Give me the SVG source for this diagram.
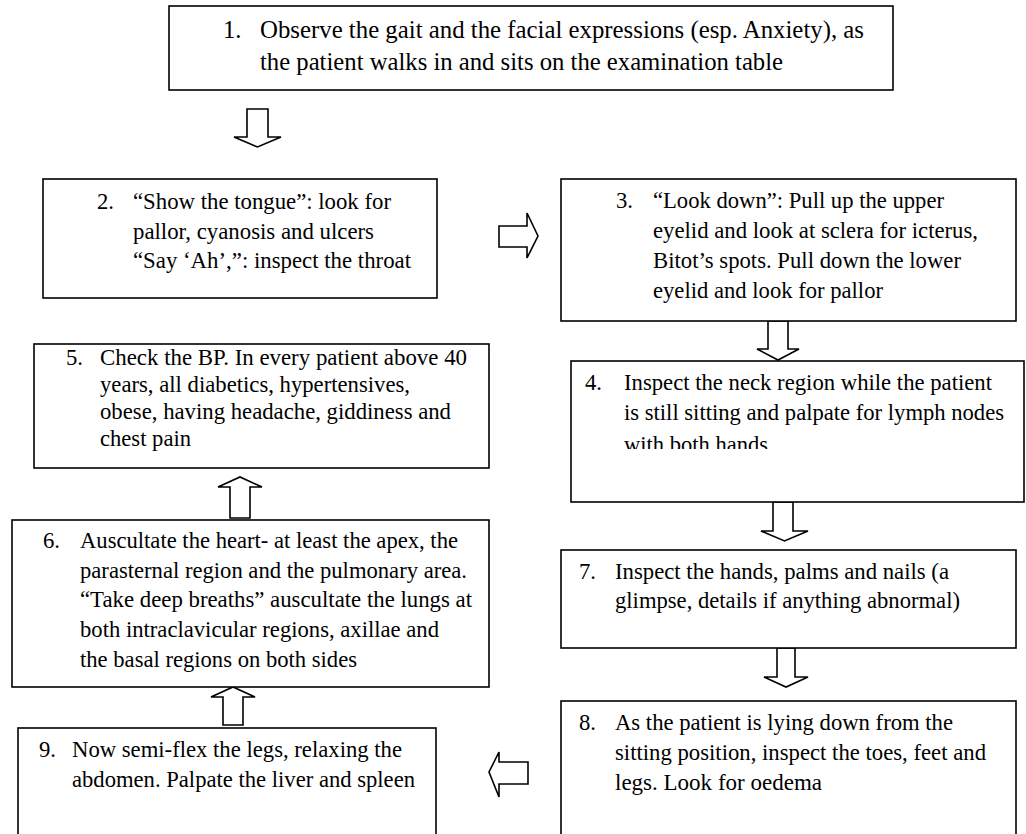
<svg xmlns="http://www.w3.org/2000/svg" width="1026" height="834" viewBox="0 0 1026 834">
<style>
.box{fill:#fff;stroke:#000;stroke-width:1.6}
.arr{fill:#fff;stroke:#000;stroke-width:1.6;stroke-linejoin:miter}
.t{font-family:"Liberation Serif","Times New Roman",serif;font-size:22.7px;fill:#000}
.big{font-size:24.7px}
</style>
<defs>
<clipPath id="clip4"><rect x="571" y="361" width="453" height="88"/></clipPath>
</defs>
<rect width="1026" height="834" fill="#fff"/>
<g id="connectors">
<path class="arr" d="M247,109 H268 V137 H281 L257.5,147 L234,137 H247 Z"/>
<path class="arr" d="M499,226 H527 V213 L538,236 L527,258 V247 H499 Z"/>
<path class="arr" d="M768,321 H788 V349 H799 L778,360 L757,349 H768 Z"/>
<path class="arr" d="M773,502 H793 V531 H808 L784.5,541 L761,531 H773 Z"/>
<path class="arr" d="M777,648 H795 V677 H808 L786,687 L764,677 H777 Z"/>
<path class="arr" d="M230,518 H250 V487 H262 L240,477 L218,487 H230 Z"/>
<path class="arr" d="M223,725 H243 V697 H255 L233,687 L211,697 H223 Z"/>
<path class="arr" d="M528,762 V784 H499 V797 L489,772 L499,752 V762 Z"/>
</g>
<g id="node1">
<rect class="box" x="169" y="6" width="724" height="84"/>
<text class="t big" x="223" y="38">1.</text>
<text class="t big" x="260" y="38" textLength="604" lengthAdjust="spacingAndGlyphs">Observe the gait and the facial expressions (esp. Anxiety), as</text>
<text class="t big" x="260" y="70" textLength="523" lengthAdjust="spacingAndGlyphs">the patient walks in and sits on the examination table</text>
</g>
<g id="node2">
<rect class="box" x="43" y="179" width="394" height="119"/>
<text class="t" x="97" y="209">2.</text>
<text class="t" x="133" y="209" textLength="258" lengthAdjust="spacingAndGlyphs">“Show the tongue”: look for</text>
<text class="t" x="133" y="239" textLength="241" lengthAdjust="spacingAndGlyphs">pallor, cyanosis and ulcers</text>
<text class="t" x="133" y="268" textLength="278" lengthAdjust="spacingAndGlyphs">“Say ‘Ah’,”: inspect the throat</text>
</g>
<g id="node3">
<rect class="box" x="561" y="179" width="455" height="142"/>
<text class="t" x="616" y="208">3.</text>
<text class="t" x="653" y="208" textLength="291" lengthAdjust="spacingAndGlyphs">“Look down”: Pull up the upper</text>
<text class="t" x="653" y="238" textLength="325" lengthAdjust="spacingAndGlyphs">eyelid and look at sclera for icterus,</text>
<text class="t" x="653" y="268" textLength="308" lengthAdjust="spacingAndGlyphs">Bitot’s spots. Pull down the lower</text>
<text class="t" x="653" y="298" textLength="230" lengthAdjust="spacingAndGlyphs">eyelid and look for pallor</text>
</g>
<g id="node4">
<rect class="box" x="571" y="361" width="453" height="141"/>
<text class="t" x="585" y="390">4.</text>
<text class="t" x="624" y="390" textLength="368" lengthAdjust="spacingAndGlyphs">Inspect the neck region while the patient</text>
<text class="t" x="624" y="420" textLength="380" lengthAdjust="spacingAndGlyphs">is still sitting and palpate for lymph nodes</text>
<text class="t" x="624" y="452" textLength="144" lengthAdjust="spacingAndGlyphs" clip-path="url(#clip4)">with both hands</text>
</g>
<g id="node5">
<rect class="box" x="34" y="344" width="455" height="124"/>
<text class="t" x="66" y="365">5.</text>
<text class="t" x="100" y="365" textLength="367" lengthAdjust="spacingAndGlyphs">Check the BP. In every patient above 40</text>
<text class="t" x="100" y="392" textLength="310" lengthAdjust="spacingAndGlyphs">years, all diabetics, hypertensives,</text>
<text class="t" x="100" y="419" textLength="351" lengthAdjust="spacingAndGlyphs">obese, having headache, giddiness and</text>
<text class="t" x="100" y="446" textLength="91" lengthAdjust="spacingAndGlyphs">chest pain</text>
</g>
<g id="node6">
<rect class="box" x="12" y="520" width="477" height="167"/>
<text class="t" x="43" y="548">6.</text>
<text class="t" x="80" y="548" textLength="378" lengthAdjust="spacingAndGlyphs">Auscultate the heart- at least the apex, the</text>
<text class="t" x="80" y="578" textLength="387" lengthAdjust="spacingAndGlyphs">parasternal region and the pulmonary area.</text>
<text class="t" x="80" y="607" textLength="392" lengthAdjust="spacingAndGlyphs">“Take deep breaths” auscultate the lungs at</text>
<text class="t" x="80" y="637" textLength="359" lengthAdjust="spacingAndGlyphs">both intraclavicular regions, axillae and</text>
<text class="t" x="80" y="667" textLength="277" lengthAdjust="spacingAndGlyphs">the basal regions on both sides</text>
</g>
<g id="node7">
<rect class="box" x="561" y="550" width="455" height="98"/>
<text class="t" x="579" y="579">7.</text>
<text class="t" x="615" y="579" textLength="334" lengthAdjust="spacingAndGlyphs">Inspect the hands, palms and nails (a</text>
<text class="t" x="615" y="608" textLength="345" lengthAdjust="spacingAndGlyphs">glimpse, details if anything abnormal)</text>
</g>
<g id="node8">
<rect class="box" x="561" y="701" width="455" height="150"/>
<text class="t" x="579" y="730">8.</text>
<text class="t" x="615" y="730" textLength="338" lengthAdjust="spacingAndGlyphs">As the patient is lying down from the</text>
<text class="t" x="615" y="760" textLength="371" lengthAdjust="spacingAndGlyphs">sitting position, inspect the toes, feet and</text>
<text class="t" x="615" y="790" textLength="207" lengthAdjust="spacingAndGlyphs">legs. Look for oedema</text>
</g>
<g id="node9">
<rect class="box" x="18" y="728" width="418" height="130"/>
<text class="t" x="39" y="757">9.</text>
<text class="t" x="72" y="757" textLength="330" lengthAdjust="spacingAndGlyphs">Now semi-flex the legs, relaxing the</text>
<text class="t" x="72" y="787" textLength="343" lengthAdjust="spacingAndGlyphs">abdomen. Palpate the liver and spleen</text>
</g>
</svg>
